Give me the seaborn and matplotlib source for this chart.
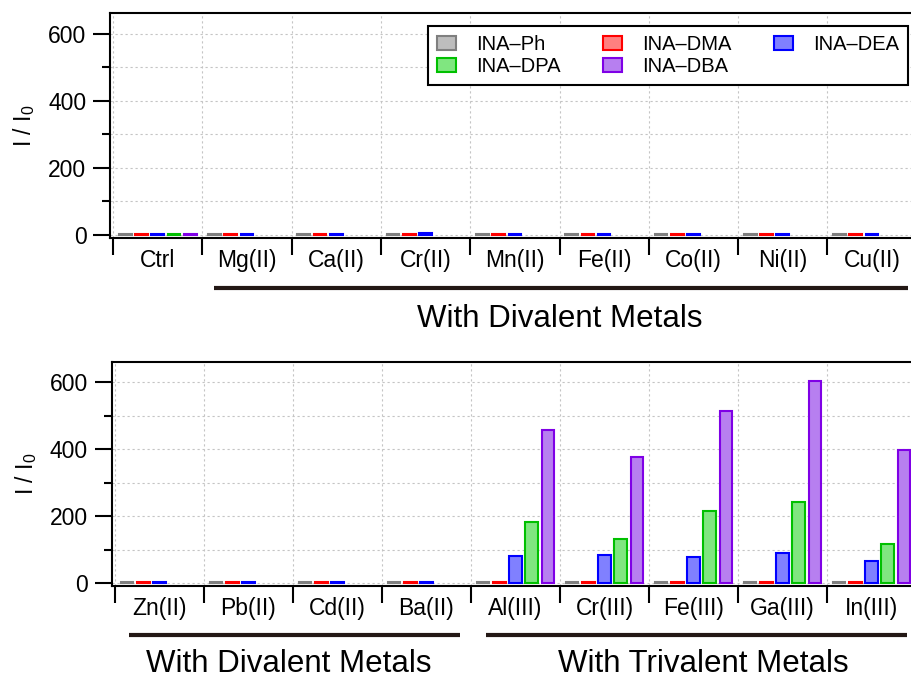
import numpy as np
import pandas as pd
import seaborn as sns
import matplotlib.pyplot as plt
import matplotlib.colors as mcolors
from matplotlib.patches import Patch

# probes and colours
probes = ['INA–Ph', 'INA–DMA', 'INA–DEA', 'INA–DPA', 'INA–DBA']
face_colors = ['#bdbdbd', '#ff8080', '#8080ff', '#80e680', '#b77ff0']
edge_colors = ['#7f7f7f', '#ff0000', '#0000ff', '#00c000', '#7f00e6']

# top panel
top_metals = ['Ctrl', 'Mg(II)', 'Ca(II)', 'Cr(II)', 'Mn(II)', 'Fe(II)', 'Co(II)', 'Ni(II)', 'Cu(II)']
top_ph = [3, 3, 3, 3, 3, 3, 3, 3, 3]
top_dma = [3, 3, 3, 3, 3, 3, 3, 3, 3]
top_dea = [3, 3, 3, 5, 3, 3, 3, 3, 3]
top_dpa = [3, None, None, None, None, None, None, None, None]
top_dba = [3, None, None, None, None, None, None, None, None]

# bottom panel
bot_metals = ['Zn(II)', 'Pb(II)', 'Cd(II)', 'Ba(II)', 'Al(III)', 'Cr(III)', 'Fe(III)', 'Ga(III)', 'In(III)']
bot_ph = [3, 3, 3, 3, 3, 3, 3, 3, 3]
bot_dma = [3, 3, 3, 3, 3, 3, 3, 3, 3]
bot_dea = [3, 3, 3, 3, 80, 84, 78, 89, 66]
bot_dpa = [None, None, None, None, 183, 131, 215, 241, 117]
bot_dba = [None, None, None, None, 458, 378, 513, 605, 397]


def long_frame(metals, series):
    rows = []
    for probe, vals in zip(probes, series):
        for m, v in zip(metals, vals):
            if v is not None:
                rows.append({'metal': m, 'probe': probe, 'value': v})
    return pd.DataFrame(rows)


df_top = long_frame(top_metals, [top_ph, top_dma, top_dea, top_dpa, top_dba])
df_bot = long_frame(bot_metals, [bot_ph, bot_dma, bot_dea, bot_dpa, bot_dba])

sns.set_style('ticks')
plt.rcParams['font.family'] = ['Liberation Sans', 'DejaVu Sans']
plt.rcParams['mathtext.fontset'] = 'custom'
plt.rcParams['mathtext.rm'] = 'Liberation Sans'
plt.rcParams['mathtext.default'] = 'regular'
plt.rcParams['text.color'] = 'black'
plt.rcParams['axes.labelcolor'] = 'black'
plt.rcParams['xtick.color'] = 'black'
plt.rcParams['ytick.color'] = 'black'

fig = plt.figure(figsize=(9.12, 6.79), dpi=100)
ax_top = fig.add_axes([110 / 912, 1 - 237.7 / 679, 810 / 912, 224.4 / 679])
ax_bot = fig.add_axes([111.7 / 912, 1 - 586 / 679, 808.3 / 912, 224 / 679])

edge_map = {tuple(np.round(mcolors.to_rgba(f), 3)): e for f, e in zip(face_colors, edge_colors)}


def draw_panel(ax, df, metals, xlim):
    sns.barplot(data=df, x='metal', y='value', hue='probe', order=metals,
                hue_order=probes, palette=dict(zip(probes, face_colors)),
                saturation=1, width=0.91, gap=0.22, errorbar=None,
                linewidth=1.5, legend=False, ax=ax)
    for bar in ax.patches:
        key = tuple(np.round(bar.get_facecolor(), 3))
        if key in edge_map:
            bar.set_edgecolor(edge_map[key])
            bar.set_linewidth(1.5)

    ax.set_xlim(*xlim)
    ax.set_ylim(-9, 661)
    ax.set_xlabel('')
    ax.set_ylabel('I / I$_0$', fontsize=16.5)
    ax.yaxis.set_label_coords(-73 / 810, 0.5)

    # category boundaries as major ticks, names on minor ticks
    ax.set_xticks(np.arange(-0.5, 9, 1))
    ax.set_xticklabels([])
    ax.set_xticks(range(len(metals)), minor=True)
    ax.set_xticklabels(metals, minor=True, fontsize=16.5)
    ax.tick_params(axis='x', which='major', length=12, width=1.5, direction='out')
    ax.tick_params(axis='x', which='minor', length=0, pad=8)

    ax.set_yticks([0, 200, 400, 600])
    ax.set_yticks([100, 300, 500], minor=True)
    ax.tick_params(axis='y', which='major', length=12, width=1.5, labelsize=16.5, pad=5)
    ax.tick_params(axis='y', which='minor', length=6, width=1.5)

    ax.set_axisbelow(True)
    ax.grid(True, axis='x', which='major', color='#c4c4c4', linestyle=(0, (2, 2.5)), linewidth=0.8)
    ax.grid(True, axis='y', which='both', color='#c4c4c4', linestyle=(0, (2, 2.5)), linewidth=0.8)

    for side in ['left', 'bottom', 'top']:
        ax.spines[side].set_linewidth(1.5)
        ax.spines[side].set_color('black')
    ax.spines['right'].set_visible(False)


draw_panel(ax_top, df_top, top_metals, (-0.534, 8.537))
draw_panel(ax_bot, df_bot, bot_metals, (-0.537, 8.545))


def group_label(ax, x0, x1, xc, text, y_line, y_text):
    tr = ax.get_xaxis_transform()
    ax.plot([x0, x1], [y_line, y_line], color='#231815', linewidth=3,
            transform=tr, clip_on=False, solid_capstyle='butt')
    ax.text(xc, y_text, text, transform=tr, ha='center', va='baseline', fontsize=22.5)


group_label(ax_top, 0.631, 8.40, 4.506, 'With Divalent Metals', -0.224, -0.40)
group_label(ax_bot, -0.343, 3.376, 1.455, 'With Divalent Metals', -0.219, -0.385)
group_label(ax_bot, 3.669, 8.40, 6.107, 'With Trivalent Metals', -0.219, -0.385)

# legend: two rows filled across, three columns
handles = [Patch(facecolor=f, edgecolor=e, linewidth=1.5, label=p)
           for p, f, e in zip(probes, face_colors, edge_colors)]
order = [0, 3, 1, 4, 2]
leg = ax_top.legend([handles[i] for i in order], [probes[i] for i in order],
                    ncol=3, loc='upper right', bbox_to_anchor=(908 / 912, 1 - 26 / 679),
                    bbox_transform=fig.transFigure, borderaxespad=0, fontsize=14.5,
                    frameon=True, fancybox=False, framealpha=1, edgecolor='black',
                    handlelength=0.95, handleheight=0.7, handletextpad=1.0,
                    columnspacing=2.1, labelspacing=0.15, borderpad=0.45)
leg.get_frame().set_linewidth(1.5)

plt.savefig('out.png', dpi=100)
